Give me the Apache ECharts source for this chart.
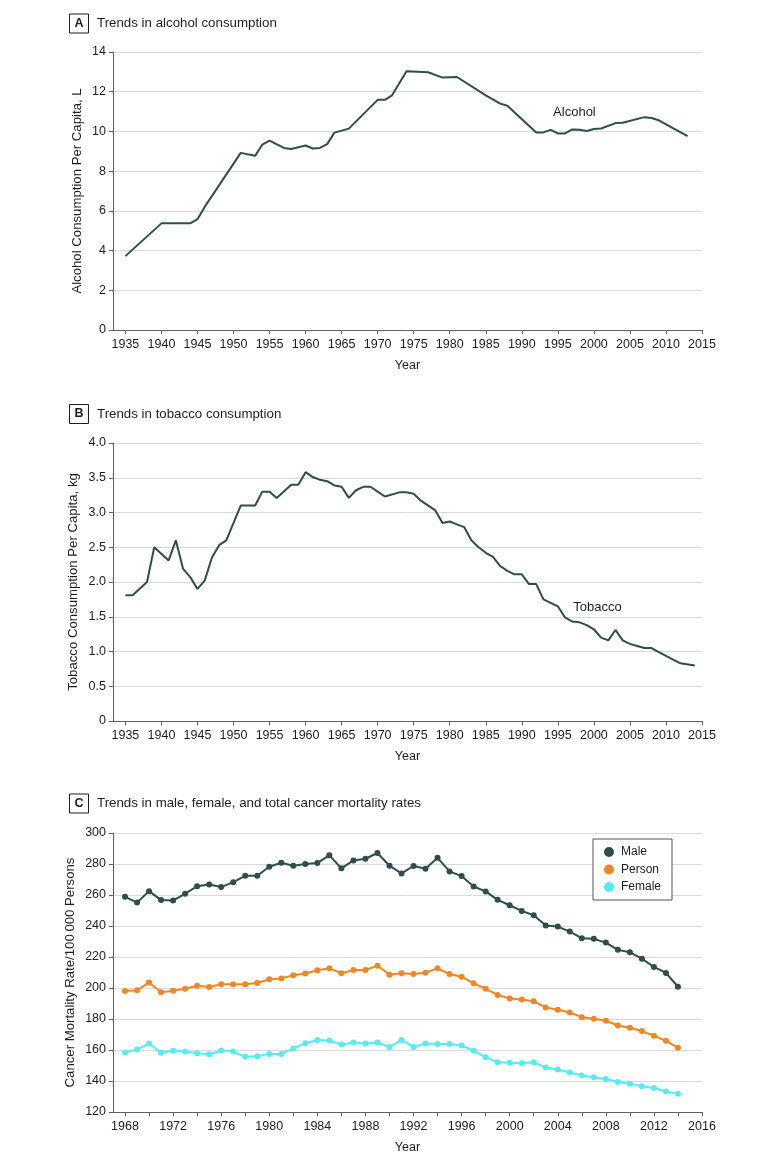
<!DOCTYPE html>
<html>
<head>
<meta charset="utf-8">
<script src="https://cdn.jsdelivr.net/npm/echarts@6/dist/echarts.min.js"></script>
<style>
html,body{margin:0;padding:0;background:#fff;}
#chart{width:780px;height:1166px;}
</style>
</head>
<body>
<div id="chart"></div>
<script>
// ---- Panel A: alcohol consumption (L per capita) ----
const alcoholYears  = [1935,1940,1944,1945,1946,1951,1953,1954,1955,1957,1958,1960,1961,1962,1963,1964,1966,1970,1971,1972,1974,1977,1979,1981,1985,1987,1988,1992,1993,1994,1995,1996,1997,1998,1999,2000,2001,2003,2004,2007,2008,2009,2013];
const alcoholValues = [3.72,5.37,5.37,5.58,6.2,8.92,8.77,9.34,9.54,9.17,9.12,9.29,9.14,9.17,9.36,9.94,10.14,11.59,11.59,11.82,13.03,12.98,12.71,12.74,11.82,11.4,11.29,9.95,9.95,10.08,9.9,9.9,10.1,10.08,10.02,10.12,10.15,10.42,10.44,10.72,10.68,10.56,9.76];

// ---- Panel B: tobacco consumption (kg per capita) ----
const tobaccoYears  = [1935,1936,1938,1939,1941,1942,1943,1944,1945,1946,1947,1948,1949,1951,1952,1953,1954,1955,1956,1958,1959,1960,1961,1962,1963,1964,1965,1966,1967,1968,1969,1970,1971,1973,1974,1975,1976,1978,1979,1980,1981,1982,1983,1984,1985,1986,1987,1988,1989,1990,1991,1992,1993,1994,1995,1996,1997,1998,1999,2000,2001,2002,2003,2004,2005,2006,2007,2008,2009,2012,2014];
const tobaccoValues = [1.81,1.81,2.0,2.5,2.31,2.6,2.19,2.07,1.9,2.02,2.35,2.53,2.6,3.1,3.1,3.1,3.3,3.3,3.21,3.4,3.4,3.58,3.51,3.47,3.45,3.39,3.37,3.21,3.32,3.37,3.37,3.3,3.23,3.29,3.29,3.27,3.17,3.03,2.85,2.87,2.83,2.79,2.6,2.5,2.42,2.36,2.23,2.16,2.11,2.11,1.97,1.97,1.75,1.7,1.65,1.49,1.43,1.42,1.38,1.32,1.2,1.16,1.31,1.16,1.11,1.08,1.05,1.05,0.99,0.83,0.8];

// ---- Panel C: cancer mortality rates per 100 000 ----
const mortalityYears = [1968,1969,1970,1971,1972,1973,1974,1975,1976,1977,1978,1979,1980,1981,1982,1983,1984,1985,1986,1987,1988,1989,1990,1991,1992,1993,1994,1995,1996,1997,1998,1999,2000,2001,2002,2003,2004,2005,2006,2007,2008,2009,2010,2011,2012,2013,2014];
const maleRates   = [258.8,255.2,262.5,256.7,256.5,260.8,265.7,266.8,265.1,268.3,272.4,272.4,278.2,280.8,278.9,280.0,280.7,285.6,277.2,282.3,283.4,287.1,278.9,273.9,278.7,276.9,284.0,275.2,272.2,265.5,262.3,256.9,253.4,249.7,247.0,240.3,239.6,236.4,232.1,231.7,229.3,224.6,223.0,218.9,213.6,209.7,200.8];
const personRates = [198.0,198.5,203.6,197.2,198.3,199.5,201.5,200.6,202.4,202.4,202.4,203.2,205.6,206.2,208.2,209.3,211.5,212.7,209.5,211.6,211.6,214.4,208.6,209.5,209.0,209.9,212.7,209.0,207.3,203.0,199.5,195.5,193.3,192.6,191.4,187.5,186.0,184.2,181.2,180.1,178.9,175.8,174.3,172.2,169.2,165.9,161.4];
const femaleRates = [158.4,160.3,164.2,158.2,159.5,159.0,157.9,157.3,159.7,159.0,155.6,156.0,157.5,157.5,161.0,164.4,166.4,166.1,163.5,164.8,164.2,164.8,162.0,166.4,162.0,164.2,163.8,163.8,162.9,159.5,155.4,152.1,151.7,151.5,152.1,148.7,147.4,145.5,143.5,142.4,141.3,139.4,138.3,136.6,135.5,133.2,131.7];

// ---- Tick labels ----
const yearTicksAB = [1935,1940,1945,1950,1955,1960,1965,1970,1975,1980,1985,1990,1995,2000,2005,2010,2015];
const yearLabelsC = [1968,1972,1976,1980,1984,1988,1992,1996,2000,2004,2008,2012,2016];
const yearTicksC  = [1968,1970,1972,1974,1976,1978,1980,1982,1984,1986,1988,1990,1992,1994,1996,1998,2000,2002,2004,2006,2008,2010,2012,2014,2016];

const FONT = 'Liberation Sans, Arial, sans-serif';
const TXT = '#1f1c1d';
const AX = '#5f6062';
const DARK = '#2c4f4b', ORANGE = '#f5861f', CYAN = '#55edf5';

const pairs = (xs, ys) => xs.map((x, i) => [x, ys[i]]);

function xAxisCfg(gi, min, max, ticks, labels) {
  return {
    type: 'value', gridIndex: gi, min: min, max: max,
    name: 'Year', nameLocation: 'middle', nameGap: 29, nameMoveOverlap: false,
    nameTextStyle: { color: TXT, fontSize: 12.5, fontFamily: FONT },
    axisLine: { show: true, lineStyle: { color: AX, width: 1 } },
    axisTick: { show: true, length: 4, lineStyle: { color: AX }, customValues: ticks },
    axisLabel: { color: TXT, fontSize: 12.5, fontFamily: FONT, margin: 8, customValues: labels, formatter: v => String(v) },
    splitLine: { show: false }
  };
}
function yAxisCfg(gi, min, max, interval, name, gap, fmt) {
  return {
    type: 'value', gridIndex: gi, min: min, max: max, interval: interval,
    name: name, nameLocation: 'middle', nameGap: gap, nameRotate: 90, nameMoveOverlap: false,
    nameTextStyle: { color: TXT, fontSize: 13.2, fontFamily: FONT },
    axisLine: { show: true, lineStyle: { color: AX, width: 1 } },
    axisTick: { show: true, length: 4, lineStyle: { color: AX } },
    axisLabel: { color: TXT, fontSize: 12.5, fontFamily: FONT, margin: 7, formatter: fmt },
    splitLine: { show: true, lineStyle: { color: '#d9d9d9', width: 1 } }
  };
}

function panelTitle(letter, text, cy) {
  return [
    { type: 'rect', shape: { x: 69.5, y: cy - 9.5, width: 19, height: 19 },
      style: { fill: '#fff', stroke: TXT, lineWidth: 1 } },
    { type: 'text', x: 79, y: cy, style: { text: letter, fill: TXT, font: 'bold 12.5px ' + FONT, align: 'center', verticalAlign: 'middle' } },
    { type: 'text', x: 97, y: cy, style: { text: text, fill: TXT, font: '13.3px ' + FONT, align: 'left', verticalAlign: 'middle' } }
  ];
}

const chart = echarts.init(document.getElementById('chart'), null, { renderer: 'canvas' });
chart.setOption({
  animation: false,
  backgroundColor: '#fff',
  textStyle: { fontFamily: FONT },
  grid: [
    { left: 113, top: 52, width: 589, height: 278 },
    { left: 113, top: 443, width: 589, height: 278 },
    { left: 113, top: 833, width: 589, height: 279 }
  ],
  xAxis: [
    xAxisCfg(0, 1933.28, 2015, yearTicksAB, yearTicksAB),
    xAxisCfg(1, 1933.28, 2015, yearTicksAB, yearTicksAB),
    xAxisCfg(2, 1967, 2016, yearTicksC, yearLabelsC)
  ],
  yAxis: [
    yAxisCfg(0, 0, 14, 2, 'Alcohol Consumption Per Capita, L', 29.5, v => String(v)),
    yAxisCfg(1, 0, 4, 0.5, 'Tobacco Consumption Per Capita, kg', 33, v => v === 0 ? '0' : v.toFixed(1)),
    yAxisCfg(2, 120, 300, 20, 'Cancer Mortality Rate/100\u2009000 Persons', 36.5, v => String(v))
  ],
  legend: {
    data: ['Male', 'Person', 'Female'],
    orient: 'vertical', left: 593, top: 839,
    padding: [7, 11, 7, 11], itemGap: 5.5,
    itemWidth: 14, itemHeight: 10, icon: 'circle',
    borderColor: '#555', borderWidth: 1, backgroundColor: '#fff',
    selectedMode: false,
    textStyle: { color: TXT, fontSize: 12, fontFamily: FONT }
  },
  graphic: [].concat(
    panelTitle('A', 'Trends in alcohol consumption', 23.5),
    panelTitle('B', 'Trends in tobacco consumption', 414),
    panelTitle('C', 'Trends in male, female, and total cancer mortality rates', 803.5)
  ),
  series: [
    { name: 'Alcohol', type: 'line', xAxisIndex: 0, yAxisIndex: 0,
      data: pairs(alcoholYears, alcoholValues), showSymbol: false, symbol: 'none',
      lineStyle: { color: DARK, width: 2 }, itemStyle: { color: DARK },
      markPoint: { silent: true, symbol: 'circle', symbolSize: 0,
        data: [{ coord: [1997.3, 10.97] }],
        label: { show: true, position: 'inside', formatter: 'Alcohol', color: TXT, fontSize: 13, fontFamily: FONT } } },
    { name: 'Tobacco', type: 'line', xAxisIndex: 1, yAxisIndex: 1,
      data: pairs(tobaccoYears, tobaccoValues), showSymbol: false, symbol: 'none',
      lineStyle: { color: DARK, width: 2 }, itemStyle: { color: DARK },
      markPoint: { silent: true, symbol: 'circle', symbolSize: 0,
        data: [{ coord: [2000.5, 1.64] }],
        label: { show: true, position: 'inside', formatter: 'Tobacco', color: TXT, fontSize: 13, fontFamily: FONT } } },
    { name: 'Male', type: 'line', xAxisIndex: 2, yAxisIndex: 2,
      data: pairs(mortalityYears, maleRates), symbol: 'circle', symbolSize: 6,
      lineStyle: { color: DARK, width: 2 }, itemStyle: { color: DARK } },
    { name: 'Person', type: 'line', xAxisIndex: 2, yAxisIndex: 2,
      data: pairs(mortalityYears, personRates), symbol: 'circle', symbolSize: 6,
      lineStyle: { color: ORANGE, width: 2 }, itemStyle: { color: ORANGE } },
    { name: 'Female', type: 'line', xAxisIndex: 2, yAxisIndex: 2,
      data: pairs(mortalityYears, femaleRates), symbol: 'circle', symbolSize: 6,
      lineStyle: { color: CYAN, width: 2 }, itemStyle: { color: CYAN } }
  ]
});
</script>
</body>
</html>
